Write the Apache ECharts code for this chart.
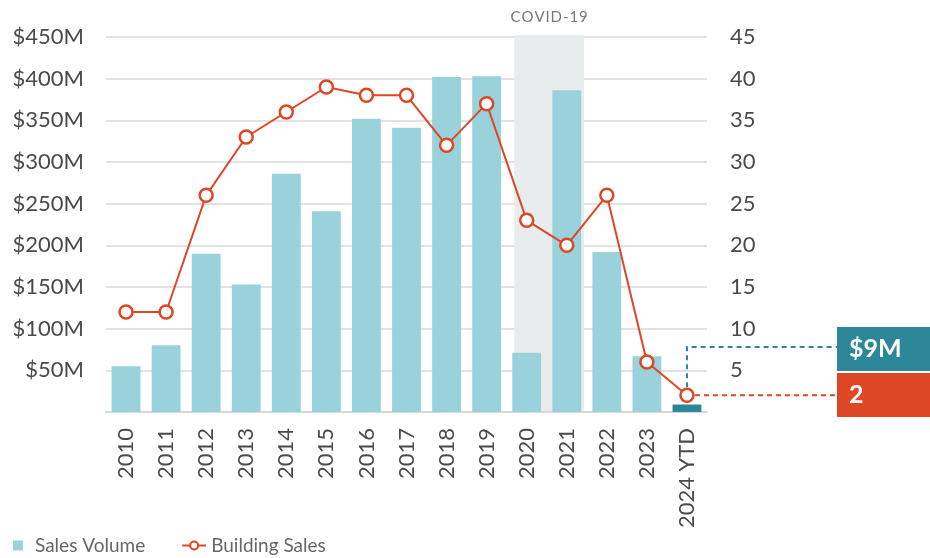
<!DOCTYPE html>
<html>
<head>
<meta charset="utf-8">
<title>Sales Volume and Building Sales</title>
<script src="https://cdn.jsdelivr.net/npm/echarts@6/dist/echarts.min.js"></script>
<style>
  html, body { margin: 0; padding: 0; background: #fff; }
  #main { width: 930px; height: 558px; }
</style>
</head>
<body>
<div id="main"></div>
<script>
  // data
  var years = ['2010', '2011', '2012', '2013', '2014', '2015', '2016', '2017',
               '2018', '2019', '2020', '2021', '2022', '2023', '2024 YTD'];
  var salesVolume = [55, 80, 190, 153, 286, 241, 352, 341, 402, 403, 71, 386, 192, 67, 9]; // $M
  var buildingSales = [12, 12, 26, 33, 36, 39, 38, 38, 32, 37, 23, 20, 26, 6, 2];
  var covidYears = ['2020', '2021'];
  var volumeTicks = { min: 0, max: 450, interval: 50 };
  var countTicks = { min: 0, max: 45, interval: 5 };

  var teal = '#2c8899';
  var lightBlue = '#9ad2dc';
  var red = '#dd4726';
  var font = 'Lato, "Noto Sans", sans-serif';

  var myChart = echarts.init(document.getElementById('main'));

  var lastIdx = years.length - 1;
  var barData = salesVolume.map(function (v, i) {
    return i === lastIdx ? { value: v, itemStyle: { color: teal } } : v;
  });

  var option = {
    animation: false,
    textStyle: { fontFamily: font },
    grid: { left: 106, right: 223, top: 37, bottom: 146 },
    legend: {
      left: 8,
      bottom: -2,
      itemGap: 36,
      itemWidth: 24,
      itemHeight: 10,
      textStyle: { fontSize: 19, color: '#666', fontFamily: font },
      data: [
        { name: 'Sales Volume', icon: 'path://M0,0h10v10h-10z', itemStyle: { color: lightBlue } },
        { name: 'Building Sales' }
      ]
    },
    xAxis: {
      type: 'category',
      data: years,
      axisLine: { lineStyle: { color: '#d8d8d8', width: 2 } },
      axisTick: { show: false },
      axisLabel: { rotate: 90, fontSize: 22, color: '#4a4a4a', margin: 16, fontFamily: font }
    },
    yAxis: [
      {
        type: 'value',
        min: volumeTicks.min, max: volumeTicks.max, interval: volumeTicks.interval,
        axisLine: { show: false },
        axisTick: { show: false },
        splitLine: { lineStyle: { color: '#e2e2e2', width: 2 } },
        axisLabel: {
          fontSize: 22, color: '#4a4a4a', margin: 22, fontFamily: font,
          formatter: function (v) { return v === 0 ? '' : '$' + v + 'M'; }
        }
      },
      {
        type: 'value',
        min: countTicks.min, max: countTicks.max, interval: countTicks.interval,
        axisLine: { show: false },
        axisTick: { show: false },
        splitLine: { show: false },
        axisLabel: {
          fontSize: 22, color: '#4a4a4a', margin: 23, fontFamily: font,
          formatter: function (v) { return v === 0 ? '' : String(v); }
        }
      }
    ],
    series: [
      {
        // COVID-19 shaded band behind the bars
        type: 'custom',
        silent: true,
        z: 0,
        data: [[years.indexOf(covidYears[0]), years.indexOf(covidYears[covidYears.length - 1])]],
        encode: { x: [0, 1] },
        renderItem: function (params, api) {
          var bw = api.size([1, 0])[0];
          var a = api.coord([api.value(0), volumeTicks.max]);
          var b = api.coord([api.value(1), 0]);
          var x0 = a[0] - bw * 0.31;
          var x1 = b[0] + bw * 0.43;
          var y0 = a[1] - 2;
          return {
            type: 'group',
            children: [
              { type: 'rect', shape: { x: x0, y: y0, width: x1 - x0, height: b[1] - y0 },
                style: { fill: '#e8ecec' } },
              { type: 'text', style: { text: 'C O V I D - 1 9'.replace(/ /g, '\u200a'), x: (x0 + x1) / 2, y: y0 - 18,
                  fill: '#777', font: '15px ' + font, align: 'center', verticalAlign: 'middle' } }
            ]
          };
        }
      },
      {
        name: 'Sales Volume',
        type: 'bar',
        yAxisIndex: 0,
        barWidth: '72%',
        itemStyle: { color: lightBlue },
        z: 2,
        data: barData
      },
      {
        name: 'Building Sales',
        type: 'line',
        yAxisIndex: 1,
        symbol: 'circle',
        symbolSize: 13,
        lineStyle: { color: red, width: 2 },
        itemStyle: { color: '#fff', borderColor: red, borderWidth: 2.5 },
        z: 3,
        data: buildingSales
      }
    ]
  };

  myChart.setOption(option);

  // call-outs for the latest year
  var barTop = myChart.convertToPixel({ xAxisIndex: 0, yAxisIndex: 0 }, [lastIdx, salesVolume[lastIdx]]);
  var pt = myChart.convertToPixel({ xAxisIndex: 0, yAxisIndex: 1 }, [lastIdx, buildingSales[lastIdx]]);
  var boxX = 837, boxW = 93, boxH = 44;
  var tealY = 347, redY = pt[1];

  myChart.setOption({
    graphic: [
      { type: 'polyline', z: 10, shape: { points: [[barTop[0], pt[1] - 8], [barTop[0], tealY], [boxX, tealY]] },
        style: { stroke: teal, lineWidth: 2, lineDash: [5, 4], fill: null } },
      { type: 'line', z: 10, shape: { x1: pt[0] + 8, y1: redY, x2: boxX, y2: redY },
        style: { stroke: red, lineWidth: 2, lineDash: [5, 4] } },
      { type: 'rect', z: 11, shape: { x: boxX, y: tealY - 20, width: boxW, height: boxH },
        style: { fill: teal } },
      { type: 'text', z: 12, style: { text: '$' + salesVolume[lastIdx] + 'M', x: boxX + 12, y: tealY + 2,
          fill: '#fff', font: 'bold 25px ' + font, verticalAlign: 'middle' } },
      { type: 'rect', z: 11, shape: { x: boxX, y: tealY - 20 + boxH + 2, width: boxW, height: boxH },
        style: { fill: red } },
      { type: 'text', z: 12, style: { text: String(buildingSales[lastIdx]), x: boxX + 12, y: tealY - 20 + boxH + 2 + boxH / 2,
          fill: '#fff', font: 'bold 25px ' + font, verticalAlign: 'middle' } }
    ]
  });
</script>
</body>
</html>
